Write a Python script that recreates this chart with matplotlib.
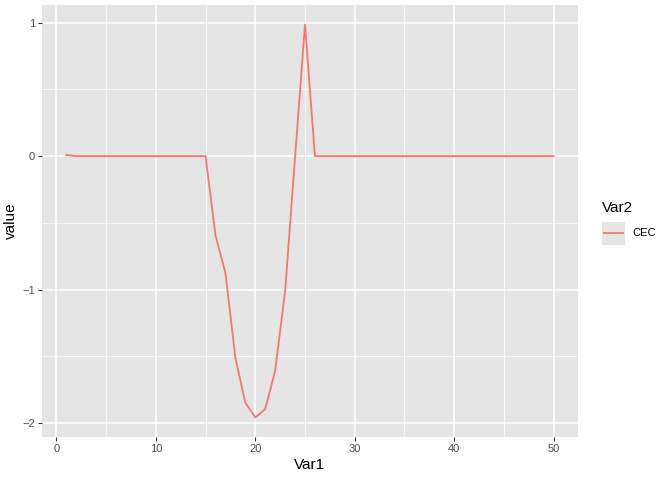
import matplotlib
matplotlib.use("Agg")
import matplotlib.pyplot as plt
from matplotlib.lines import Line2D
from matplotlib.patches import Rectangle

plt.rcParams['font.family'] = ['Liberation Sans', 'DejaVu Sans']

var1 = list(range(1, 51))
cec = ([0.008] + [0.0] * 14 +
       [-0.594, -0.875, -1.513, -1.847, -1.957, -1.895, -1.607, -1.013, -0.01, 0.985] +
       [0.0] * 25)

y_ticks = [-2, -1, 0, 1]
x_ticks = [0, 10, 20, 30, 40, 50]
line_col = "#F8766D"

fig = plt.figure(figsize=(6.72, 4.8), dpi=100)
ax = fig.add_axes([0.0625, 0.0896, 0.7975, 0.90])
ax.set_facecolor("#E5E5E5")

ax.plot(var1, cec, color=line_col, linewidth=1.3, zorder=3)

xr = max(var1) - min(var1)
ax.set_xlim(min(var1) - 0.05 * xr, max(var1) + 0.05 * xr)
yr = max(cec) - min(cec)
ax.set_ylim(min(cec) - 0.05 * yr, max(cec) + 0.05 * yr)

ax.set_xticks(x_ticks)
ax.set_yticks(y_ticks)
ax.set_xticks([5, 15, 25, 35, 45], minor=True)
ax.set_yticks([-1.5, -0.5, 0.5], minor=True)
ax.grid(which="major", color="white", linewidth=1.1, zorder=1)
ax.grid(which="minor", color="white", linewidth=0.5, zorder=1)
ax.set_axisbelow(True)
for s in ax.spines.values():
    s.set_visible(False)
ax.tick_params(which="major", length=3, color="#333333", labelsize=8, labelcolor="#4D4D4D", pad=2)
ax.tick_params(which="minor", length=0)

ax.set_xlabel("Var1", fontsize=11, labelpad=3)
ax.set_ylabel("value", fontsize=11, labelpad=3)

# legend drawn by hand, ggplot style
fig.text(0.896, 0.5667, "Var2", fontsize=11, va="center", ha="left")
fig.patches.append(Rectangle((0.8958, 0.4902), 0.0342, 0.0479, transform=fig.transFigure,
                             facecolor="#E5E5E5", edgecolor="none"))
fig.lines.append(Line2D([0.899, 0.927], [0.5146, 0.5146], transform=fig.transFigure,
                        color=line_col, linewidth=1.3))
fig.text(0.9415, 0.5146, "CEC", fontsize=8, va="center", ha="left")

fig.savefig("out.png", dpi=100)
